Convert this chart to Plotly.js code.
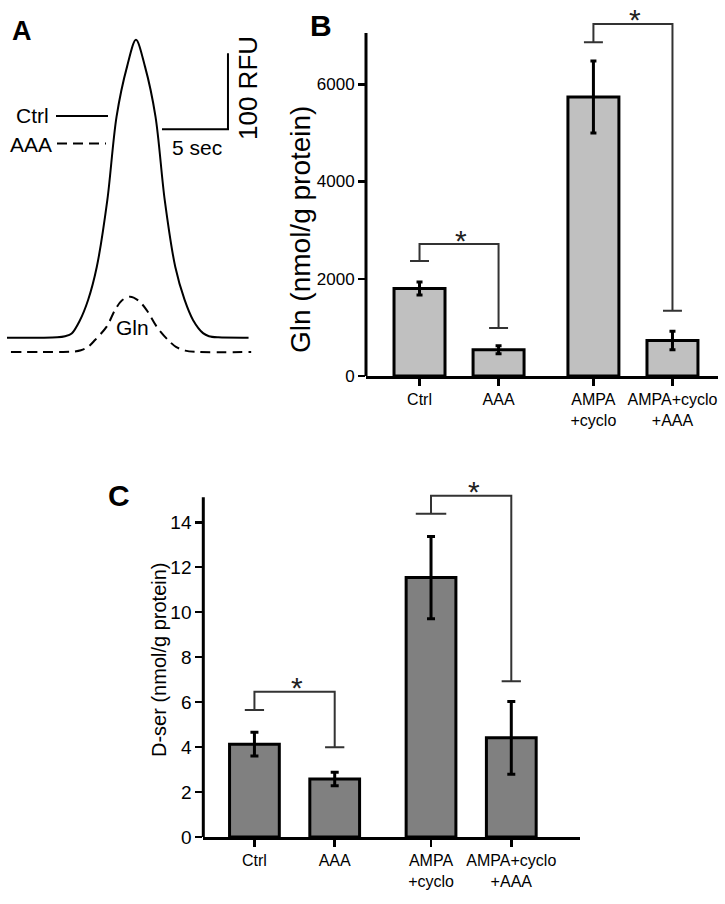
<!DOCTYPE html>
<html><head><meta charset="utf-8">
<script src="https://cdn.plot.ly/plotly-3.0.1.min.js"></script>
<style>html,body{margin:0;padding:0;background:#fff}#chart{width:725px;height:904px}</style>
</head><body><div id="chart"></div>
<script>
// ---------------- data ----------------
const groups = ["Ctrl", "AAA", "AMPA+cyclo", "AMPA+cyclo+AAA"];
const tickLabels = ["Ctrl", "AAA", "AMPA<br>+cyclo", "AMPA+cyclo<br>+AAA"];

const glnMean = [1800, 540, 5740, 730];     // nmol/g protein
const glnErr  = [135, 80, 740, 190];
const glnTicks = [0, 2000, 4000, 6000];

const dserMean = [4.13, 2.58, 11.54, 4.41]; // nmol/g protein
const dserErr  = [0.53, 0.30, 1.83, 1.62];
const dserTicks = [0, 2, 4, 6, 8, 10, 12, 14];

// significance brackets: group indices and heights (data units)
const sigB_from = [0, 2], sigB_to = [1, 3];
const sigB_fromY = [2365, 6864], sigB_topY = [2715, 7240], sigB_toY = [987, 1343];
const sigC_from = [0, 2], sigC_to = [1, 3];
const sigC_fromY = [5.65, 14.38], sigC_topY = [6.46, 15.18], sigC_toY = [3.99, 6.93];

// chromatograms (time in s, fluorescence in RFU; AAA trace drawn offset)
const ctrlTime = [0, 2.5, 3.8, 4.4, 4.9, 5.5, 6.15, 6.8, 7.6, 8.3, 9.1, 9.77, 10.45, 11.25, 11.95, 12.75, 13.45, 14.1, 14.85, 15.3, 16.0, 18.3];
const ctrlRFU  = [0, 0, 0.5, 2, 5.5, 22, 50, 93, 181, 291, 357, 392, 357, 291, 181, 93, 50, 23, 6, 2, 0.5, 0];
const aaaTime = [0.3, 4.0, 5.0, 5.6, 6.14, 6.67, 7.55, 8.18, 8.7, 9.32, 9.95, 10.58, 11.34, 12.2, 12.8, 13.5, 14.5, 18.5];
const aaaRFU  = [-18.8, -18.8, -18.3, -16.5, -12, -3, 14.5, 36.4, 49, 54, 49, 36.4, 14.5, -3, -12, -17, -18.8, -18.8];
const scaleSec = 5, scaleRFU = 100;

// ---------------- layout helpers ----------------
const W = 725, H = 904;
const fx = p => p / W;          // pixel -> paper x
const fy = p => 1 - p / H;      // pixel -> paper y
const groupPos = [0, 1, 2.2, 3.2];

const SANS = "'Liberation Sans', Arial, Helvetica, sans-serif";

const traces = [
  { type: 'bar', x: groupPos, y: glnMean, width: 0.645, xaxis: 'x', yaxis: 'y',
    marker: { color: '#c0c0c0', line: { color: '#000', width: 3 } },
    error_y: { type: 'data', array: glnErr, color: '#000', thickness: 3, width: 3 },
    hoverinfo: 'skip', name: 'Gln' },
  { type: 'bar', x: groupPos, y: dserMean, width: 0.62, xaxis: 'x2', yaxis: 'y2',
    marker: { color: '#808080', line: { color: '#000', width: 3 } },
    error_y: { type: 'data', array: dserErr, color: '#000', thickness: 3, width: 4 },
    hoverinfo: 'skip', name: 'D-ser' },
  { type: 'scatter', mode: 'lines', x: ctrlTime, y: ctrlRFU, xaxis: 'x3', yaxis: 'y3',
    line: { color: '#000', width: 2, shape: 'spline', smoothing: 0.9 }, hoverinfo: 'skip', name: 'Ctrl' },
  { type: 'scatter', mode: 'lines', x: aaaTime, y: aaaRFU, xaxis: 'x3', yaxis: 'y3',
    line: { color: '#000', width: 2, dash: '10px,6px', shape: 'spline', smoothing: 0.9 }, hoverinfo: 'skip', name: 'AAA' }
];

function bracketPath(p1, p2, y1, yt, y2, cw1, cw2) {
  return `M ${p1 - cw1},${y1} H ${p1 + cw1} M ${p1},${y1} V ${yt} H ${p2} V ${y2} M ${p2 - cw2},${y2} H ${p2 + cw2}`;
}

const shapes = [];
const annotations = [];
const brCol = '#333';

// y axis lines (stop below plot top, like the original)
shapes.push({ type: 'line', xref: 'x domain', yref: 'y', x0: 0, x1: 0, y0: 0, y1: 7055, line: { color: '#000', width: 3 } });
shapes.push({ type: 'line', xref: 'x2 domain', yref: 'y2', x0: 0, x1: 0, y0: 0, y1: 15.11, line: { color: '#000', width: 3 } });

const capB = [[0.12, 0.12], [0.12, 0.12]];
for (let i = 0; i < sigB_from.length; i++) {
  const p1 = groupPos[sigB_from[i]], p2 = groupPos[sigB_to[i]];
  shapes.push({ type: 'path', xref: 'x', yref: 'y', path: bracketPath(p1, p2, sigB_fromY[i], sigB_topY[i], sigB_toY[i], capB[i][0], capB[i][1]), line: { color: brCol, width: 2 } });
  annotations.push({ xref: 'x', yref: 'y', x: (p1 + p2) / 2 + 0.02, y: sigB_topY[i], yshift: 4, text: '*', showarrow: false, xanchor: 'center', yanchor: 'middle', font: { family: SANS, size: 30, color: '#222' } });
}
const capC = [[0.12, 0.12], [0.19, 0.12]];
for (let i = 0; i < sigC_from.length; i++) {
  const p1 = groupPos[sigC_from[i]], p2 = groupPos[sigC_to[i]];
  shapes.push({ type: 'path', xref: 'x2', yref: 'y2', path: bracketPath(p1, p2, sigC_fromY[i], sigC_topY[i], sigC_toY[i], capC[i][0], capC[i][1]), line: { color: brCol, width: 2 } });
  annotations.push({ xref: 'x2', yref: 'y2', x: (p1 + p2) / 2 + 0.03, y: sigC_topY[i], yshift: 4, text: '*', showarrow: false, xanchor: 'center', yanchor: 'middle', font: { family: SANS, size: 30, color: '#222' } });
}

// panel A scale bar
const sbX = 11.74, sbY = 274.2;
shapes.push({ type: 'path', xref: 'x3', yref: 'y3', path: `M ${sbX},${sbY} H ${sbX + scaleSec} V ${sbY + scaleRFU}`, line: { color: '#000', width: 2 } });
// panel A legend lines
shapes.push({ type: 'line', xref: 'paper', yref: 'paper', x0: fx(56), x1: fx(108), y0: fy(116), y1: fy(116), line: { color: '#000', width: 2 } });
shapes.push({ type: 'line', xref: 'paper', yref: 'paper', x0: fx(57), x1: fx(106), y0: fy(143.5), y1: fy(143.5), line: { color: '#000', width: 2, dash: '10px,6px' } });

function paperText(text, x, y, size, opts) {
  annotations.push(Object.assign({ xref: 'paper', yref: 'paper', x: fx(x), y: fy(y), text: text, showarrow: false,
    xanchor: 'center', yanchor: 'middle', font: { family: SANS, size: size, color: '#000' } }, opts || {}));
}
paperText('<b>A</b>', 21.5, 31, 27);
paperText('<b>B</b>', 321, 26, 30);
paperText('<b>C</b>', 118.5, 495.5, 30);
paperText('Ctrl', 51, 115, 21, { xanchor: 'right' });
paperText('AAA', 54, 144, 21, { xanchor: 'right' });
paperText('5 sec', 197, 147, 21);
paperText('100 RFU', 248, 88, 26, { textangle: -90 });
paperText('Gln', 132, 327, 21);
paperText('Gln (nmol/g protein)', 300, 230, 28, { textangle: -90 });
paperText('D-ser (nmol/g protein)', 159, 660, 20, { textangle: -90 });

const axCommon = { showgrid: false, zeroline: false, ticks: 'outside', tickcolor: '#000', tickwidth: 2.5, ticklen: 7, fixedrange: true, tickangle: 0 };

const layout = {
  width: W, height: H, margin: { l: 0, r: 0, t: 0, b: 0 },
  paper_bgcolor: '#fff', plot_bgcolor: 'rgba(0,0,0,0)', showlegend: false,
  font: { family: SANS, color: '#000' },
  xaxis: Object.assign({}, axCommon, { domain: [fx(366), fx(718)], range: [-0.677, 3.776], anchor: 'y',
    showline: true, linecolor: '#000', linewidth: 3, tickvals: groupPos, ticktext: tickLabels,
    tickfont: { family: SANS, size: 16, color: '#000' } }),
  yaxis: Object.assign({}, axCommon, { domain: [fy(376), fy(20)], range: [0, 7322], anchor: 'x',
    showline: false, tickvals: glnTicks, tickfont: { family: SANS, size: 17, color: '#000' } }),
  xaxis2: Object.assign({}, axCommon, { domain: [fx(203.3), fx(580)], range: [-0.637, 4.056], anchor: 'y2',
    showline: true, linecolor: '#000', linewidth: 3, tickvals: groupPos, ticktext: tickLabels,
    tickfont: { family: SANS, size: 16, color: '#000' } }),
  yaxis2: Object.assign({}, axCommon, { domain: [fy(837), fy(480)], range: [0, 15.88], anchor: 'x2',
    showline: false, tickvals: dserTicks, tickfont: { family: SANS, size: 19, color: '#000' } }),
  xaxis3: { domain: [0, fx(260)], range: [-7 / 13.2, (260 - 7) / 13.2], visible: false, anchor: 'y3', fixedrange: true },
  yaxis3: { domain: [fy(365), fy(30)], range: [-(365 - 337.7) / 0.76, (337.7 - 30) / 0.76], visible: false, anchor: 'x3', fixedrange: true },
  shapes: shapes,
  annotations: annotations
};

Plotly.newPlot('chart', traces, layout, { displayModeBar: false, staticPlot: true });
</script>
</body></html>
